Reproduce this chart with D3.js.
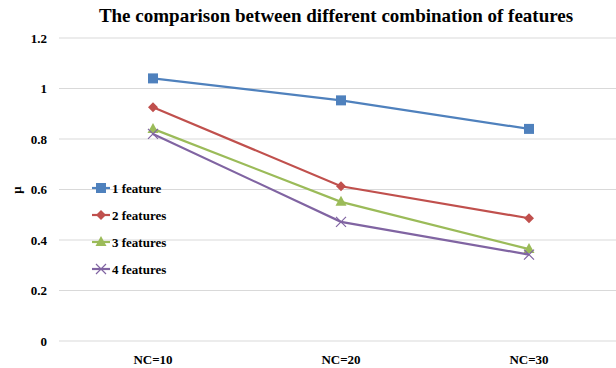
<!DOCTYPE html>
<html><head><meta charset="utf-8">
<script src="https://cdn.jsdelivr.net/npm/d3@7"></script>
<style>body{margin:0;background:#fff}svg{display:block}svg text{font-family:"Times New Roman","Liberation Serif",Times,"DejaVu Serif",serif !important;font-weight:bold}</style>
</head><body><svg id="c" width="616" height="368"></svg>
<script>
const categories = ["NC=10", "NC=20", "NC=30"];
const seriesNames = ["1 feature", "2 features", "3 features", "4 features"];
const s1 = [1.04, 0.953, 0.84];
const s2 = [0.926, 0.613, 0.486];
const s3 = [0.84, 0.551, 0.364];
const s4 = [0.82, 0.472, 0.342];
const yTicks = [0, 0.2, 0.4, 0.6, 0.8, 1, 1.2];
const yTickLabels = ["0", "0.2", "0.4", "0.6", "0.8", "1", "1.2"];
const colors = ["#4F81BD", "#C0504D", "#9BBB59", "#8064A2"];
const symbols = ["square", "diamond", "triangle", "x"];
const series = [s1, s2, s3, s4];

const FONT = '"Times New Roman","Liberation Serif",Times,serif';
const svg = d3.select("#c");
const x = d3.scaleBand().domain(categories).range([59, 623]);
const y = d3.scaleLinear().domain([0, 1.2]).range([341, 38]);

svg.append("g").selectAll("line").data(yTicks).join("line")
  .attr("x1", 59).attr("x2", 616)
  .attr("y1", d => y(d)).attr("y2", d => y(d))
  .attr("stroke", "#d9d9d9").attr("stroke-width", 1);

const yAxis = d3.axisLeft(y).tickValues(yTicks).tickFormat((d, i) => yTickLabels[i]).tickSize(0).tickPadding(12);
const ga = svg.append("g").attr("transform", "translate(59,0)").call(yAxis);
ga.attr("font-family", FONT);
ga.select(".domain").remove();
ga.selectAll("text").attr("font-size", 13).style("font-family", FONT).attr("font-weight", "bold").attr("fill", "#000");

const xAxis = d3.axisBottom(x).tickSize(0).tickPadding(14);
const gx = svg.append("g").attr("transform", "translate(0,341)").call(xAxis);
gx.attr("font-family", FONT);
gx.select(".domain").remove();
gx.selectAll("text").attr("font-size", 13).style("font-family", FONT).attr("font-weight", "bold").attr("fill", "#000");

svg.append("text").attr("x", 336).attr("y", 22).attr("text-anchor", "middle")
  .style("font-family", FONT).attr("font-size", 19).text("The comparison between different combination of features");

svg.append("text").attr("transform", "translate(21,190) rotate(-90)").attr("text-anchor", "middle")
  .style("font-family", FONT).attr("font-size", 13).text("μ");

function marker(g, type, color, cx, cy) {
  if (type === "square") {
    g.append("rect").attr("x", cx - 5).attr("y", cy - 5).attr("width", 10).attr("height", 10).attr("fill", color);
  } else if (type === "diamond") {
    g.append("path").attr("d", `M${cx},${cy-5}L${cx+5},${cy}L${cx},${cy+5}L${cx-5},${cy}Z`).attr("fill", color);
  } else if (type === "triangle") {
    g.append("path").attr("d", `M${cx},${cy-6}L${cx+5.5},${cy+4}L${cx-5.5},${cy+4}Z`).attr("fill", color);
  } else {
    g.append("path").attr("d", `M${cx-5},${cy-5}L${cx+5},${cy+5}M${cx-5},${cy+5}L${cx+5},${cy-5}`).attr("stroke", color).attr("stroke-width", 1.2);
  }
}

const line = d3.line().x((d, i) => x(categories[i]) + x.bandwidth() / 2).y(d => y(d));
series.forEach((s, k) => {
  const g = svg.append("g");
  g.append("path").attr("d", line(s)).attr("fill", "none").attr("stroke", colors[k]).attr("stroke-width", 2.2);
  s.forEach((v, i) => marker(g, symbols[k], colors[k], x(categories[i]) + x.bandwidth() / 2, y(v)));
});

const legendY = [188, 215, 242, 269];
seriesNames.forEach((n, k) => {
  const g = svg.append("g");
  g.append("line").attr("x1", 92).attr("x2", 110).attr("y1", legendY[k]).attr("y2", legendY[k])
    .attr("stroke", colors[k]).attr("stroke-width", 2.2);
  marker(g, symbols[k], colors[k], 101, legendY[k]);
  g.append("text").attr("x", 112).attr("y", legendY[k] + 4.5).style("font-family", FONT).attr("font-size", 13).text(n);
});
</script></body></html>
